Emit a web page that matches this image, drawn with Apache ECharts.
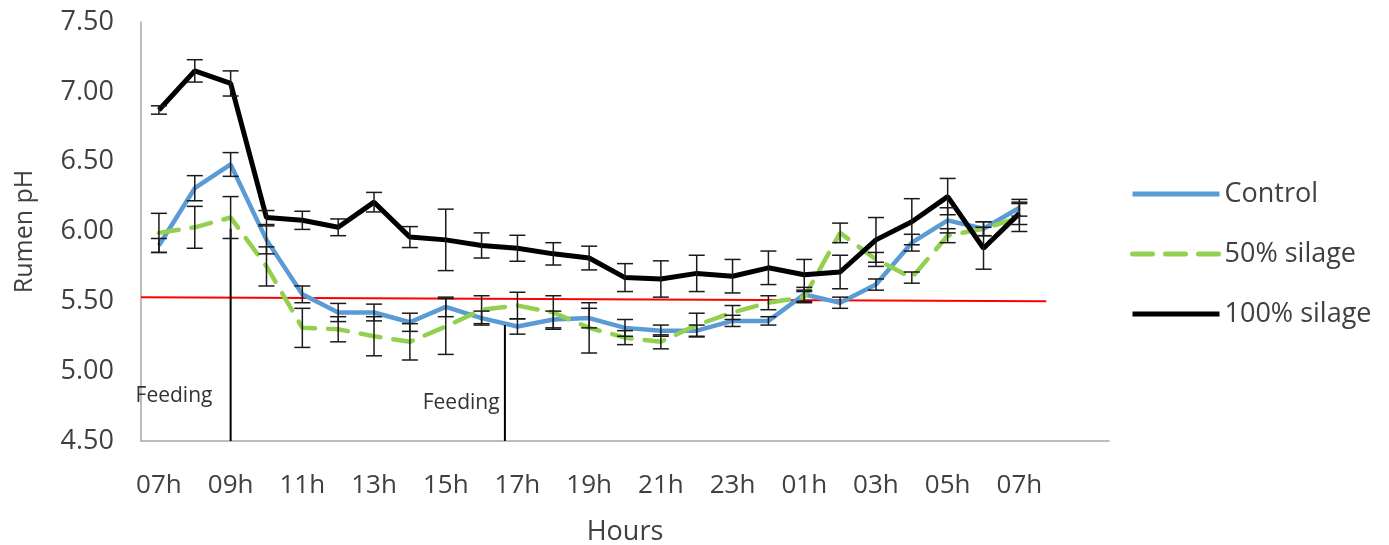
<!DOCTYPE html>
<html lang="en">
<head>
    <meta charset="UTF-8">
    <title>Rumen pH</title>
    <script src="https://cdn.jsdelivr.net/npm/echarts@6/dist/echarts.min.js"></script>
    <style>
        body { margin: 0; padding: 0; background: #fff; }
        #chart { width: 1389px; height: 545px; }
    </style>
</head>
<body>
    <div id="chart"></div>
    <script>
        // hours on the x axis (two empty slots at the end, as in the original)
        const hours = ['07h', '08h', '09h', '10h', '11h', '12h', '13h', '14h', '15h', '16h', '17h', '18h', '19h',
            '20h', '21h', '22h', '23h', '00h', '01h', '02h', '03h', '04h', '05h', '06h', '07h', '', ''];

        // mean rumen pH per treatment
        const control = [5.90, 6.31, 6.48, 5.94, 5.55, 5.42, 5.42, 5.35, 5.46, 5.38, 5.32, 5.37, 5.38,
            5.31, 5.29, 5.29, 5.36, 5.36, 5.55, 5.49, 5.62, 5.92, 6.08, 6.02, 6.17];
        const silage50 = [5.99, 6.03, 6.10, 5.75, 5.31, 5.30, 5.25, 5.21, 5.32, 5.44, 5.47, 5.42, 5.31,
            5.24, 5.21, 5.33, 5.42, 5.49, 5.53, 5.99, 5.80, 5.67, 5.97, 6.02, 6.10];
        const silage100 = [6.87, 7.15, 7.06, 6.10, 6.08, 6.03, 6.21, 5.96, 5.94, 5.90, 5.88, 5.84, 5.81,
            5.67, 5.66, 5.70, 5.68, 5.74, 5.69, 5.71, 5.94, 6.07, 6.25, 5.88, 6.13];

        // standard errors (half length of each error bar)
        const errControl = [0.05, 0.09, 0.085, 0.10, 0.06, 0.065, 0.06, 0.065, 0.07, 0.05, 0.055, 0.06, 0.07,
            0.06, 0.04, 0.04, 0.04, 0.03, 0.05, 0.04, 0.04, 0.06, 0.09, 0.05, 0.06];
        const err50 = [0.14, 0.15, 0.15, 0.14, 0.14, 0.09, 0.14, 0.13, 0.20, 0.10, 0.095, 0.12, 0.18,
            0.05, 0.05, 0.085, 0.05, 0.05, 0.04, 0.07, 0.05, 0.04, 0.05, 0.05, 0.10];
        const err100 = [0.03, 0.08, 0.09, 0.05, 0.065, 0.06, 0.07, 0.075, 0.22, 0.09, 0.093, 0.08, 0.085,
            0.10, 0.13, 0.13, 0.12, 0.12, 0.11, 0.12, 0.16, 0.165, 0.13, 0.15, 0.08];

        // y axis ticks
        const yMin = 4.5, yMax = 7.5, yStep = 0.5;

        // pH 5.5 threshold line (hour index, pH) - hand drawn, slightly tilted
        const threshold = [[-0.5, 5.53], [24.75, 5.50]];
        // feeding markers: hour index, top of the line, text position
        const feedX = [2, 9.65];
        const feedTop = [6.02, 5.33];
        const feedText = [[0.42, 4.82], [8.43, 4.77]];

        const font = '"Open Sans", "DejaVu Sans", sans-serif';
        const txt = '#404040';

        const chart = echarts.init(document.getElementById('chart'));

        function errData(vals, errs) {
            return vals.map((v, i) => [i, v - errs[i], v + errs[i]]);
        }

        function errRender(params, api) {
            const x = api.value(0);
            const top = api.coord([x, api.value(2)]);
            const bot = api.coord([x, api.value(1)]);
            const w = 8;
            const st = { stroke: '#1a1a1a', lineWidth: 1.5 };
            return {
                type: 'group',
                children: [
                    { type: 'line', shape: { x1: top[0], y1: top[1], x2: bot[0], y2: bot[1] }, style: st },
                    { type: 'line', shape: { x1: top[0] - w, y1: top[1], x2: top[0] + w, y2: top[1] }, style: st },
                    { type: 'line', shape: { x1: bot[0] - w, y1: bot[1], x2: bot[0] + w, y2: bot[1] }, style: st }
                ]
            };
        }

        function errSeries(vals, errs) {
            return {
                type: 'custom',
                renderItem: errRender,
                data: errData(vals, errs),
                encode: { x: 0, y: [1, 2] },
                z: 5,
                silent: true
            };
        }

        const feedSeries = feedX.map((x, i) => ({
            type: 'line',
            xAxisIndex: 1,
            data: [[x, feedTop[i]], [x, yMin]],
            symbol: 'none',
            lineStyle: { color: '#000', width: 2 },
            z: 4,
            silent: true
        }));

        const option = {
            animation: false,
            backgroundColor: '#fff',
            grid: { left: 141, right: 280, top: 22, bottom: 104, outerBoundsMode: 'none' },
            legend: {
                orient: 'vertical',
                left: 1125,
                top: 174,
                itemWidth: 87,
                itemHeight: 10,
                itemGap: 30,
                data: ['Control', '50% silage', '100% silage'],
                itemStyle: { opacity: 0 },
                lineStyle: { width: 5 },
                textStyle: { fontFamily: font, fontSize: 27, color: txt, lineHeight: 30 }
            },
            xAxis: [{
                type: 'category',
                data: hours,
                boundaryGap: true,
                name: 'Hours',
                nameLocation: 'middle',
                nameGap: 78,
                nameTextStyle: { fontFamily: font, fontSize: 27, color: txt },
                axisLine: { lineStyle: { color: '#a6a6a6', width: 1.5 } },
                axisTick: { show: false },
                axisLabel: { interval: 1, margin: 32, fontFamily: font, fontSize: 26, color: txt },
                splitLine: { show: false }
            }, {
                type: 'value',
                min: -0.5,
                max: 26.5,
                show: false
            }],
            yAxis: {
                type: 'value',
                min: yMin,
                max: yMax,
                interval: yStep,
                name: 'Rumen pH',
                nameLocation: 'middle',
                nameRotate: 90,
                nameGap: 104,
                nameTextStyle: { fontFamily: font, fontSize: 25, color: txt },
                axisLine: { show: true, onZero: false, lineStyle: { color: '#a6a6a6', width: 1.5 } },
                axisTick: { show: false },
                axisLabel: {
                    margin: 27,
                    fontFamily: font,
                    fontSize: 27,
                    color: txt,
                    formatter: v => v.toFixed(2)
                },
                splitLine: { show: false }
            },
            series: [
                {
                    type: 'line',
                    xAxisIndex: 1,
                    data: threshold,
                    symbol: 'none',
                    lineStyle: { color: '#ff0000', width: 2 },
                    z: 1,
                    silent: true
                },
                ...feedSeries,
                {
                    type: 'scatter',
                    xAxisIndex: 1,
                    data: feedText,
                    symbolSize: 0,
                    silent: true,
                    itemStyle: { opacity: 1 },
                    label: {
                        show: true,
                        position: 'inside',
                        formatter: 'Feeding',
                        fontFamily: font,
                        fontSize: 21,
                        color: '#333'
                    }
                },
                {
                    name: 'Control',
                    type: 'line',
                    data: control,
                    symbol: 'none',
                    lineStyle: { color: '#5b9bd5', width: 4.5 },
                    itemStyle: { color: '#5b9bd5' },
                    z: 3
                },
                {
                    name: '50% silage',
                    type: 'line',
                    data: silage50,
                    symbol: 'none',
                    lineStyle: { color: '#92d050', width: 4.5, type: [20, 13], cap: 'round' },
                    itemStyle: { color: '#92d050' },
                    z: 3
                },
                {
                    name: '100% silage',
                    type: 'line',
                    data: silage100,
                    symbol: 'none',
                    lineStyle: { color: '#000', width: 5 },
                    itemStyle: { color: '#000' },
                    z: 3
                },
                errSeries(control, errControl),
                errSeries(silage50, err50),
                errSeries(silage100, err100)
            ]
        };

        chart.setOption(option);
    </script>
</body>
</html>
